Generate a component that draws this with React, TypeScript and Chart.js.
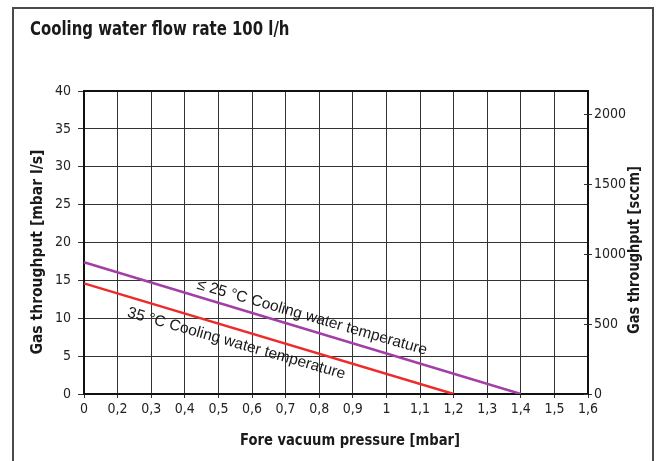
import React, { useEffect, useRef } from 'react';
import { Chart, registerables } from 'chart.js';

Chart.register(...registerables);

// ---- data ----
const pressureLabels = ['0', '0,2', '0,3', '0,4', '0,5', '0,6', '0,7', '0,8', '0,9', '1', '1,1', '1,2', '1,3', '1,4', '1,5', '1,6'];
const throughputMin = 0;
const throughputMax = 40;
const throughputStep = 5;
const sccmTicks = [0, 500, 1000, 1500, 2000];
const sccmMax = 2165;

const series25Pressure = ['0', '1,4'];
const series25Throughput = [17.4, 0];
const series35Pressure = ['0', '1,2'];
const series35Throughput = [14.6, 0];

const seriesNames = ['\u2264 25 \u00b0C Cooling water temperature', '35 \u00b0C Cooling water temperature'];
const chartTitle = 'Cooling water flow rate 100 l/h';
const xTitle = 'Fore vacuum pressure [mbar]';
const yTitle = 'Gas throughput [mbar l/s]';
const y2Title = 'Gas throughput [sccm]';

// ---- styles ----
const condensed = "'Liberation Sans Narrow', 'DejaVu Sans Condensed', 'Roboto Condensed', sans-serif";
const regular = "'Liberation Sans', Arial, Helvetica, sans-serif";
const textColor = '#222';
const gridColor = '#333';
const purple = '#a23fa6';
const red = '#ee2b2b';

// label placement along each line: x index along category axis, vertical offset in px
const labelPlacement = [
  { idx: 6.75, dy: -9 },
  { idx: 4.5, dy: 19 },
];

// draw text horizontally compressed to emulate a condensed face
function drawCondensed(ctx: CanvasRenderingContext2D, text: string, x: number, y: number, squeeze: number, align: 'left' | 'center') {
  ctx.save();
  ctx.translate(x, y);
  ctx.scale(squeeze, 1);
  ctx.textAlign = align;
  ctx.fillText(text, 0, 0);
  ctx.restore();
}

const overlayPlugin = {
  id: 'overlay',
  beforeDatasetsDraw(chart: any) {
    const { ctx, chartArea } = chart;
    ctx.save();
    ctx.strokeStyle = '#111';
    ctx.lineWidth = 2;
    ctx.beginPath();
    ctx.moveTo(chartArea.left - 1, chartArea.top);
    ctx.lineTo(chartArea.right + 1, chartArea.top);
    ctx.stroke();
    // inner tick marks of the right axis
    const y2 = chart.scales.y2;
    ctx.lineWidth = 1;
    ctx.strokeStyle = gridColor;
    y2.ticks.forEach((t: any) => {
      const y = Math.round(y2.getPixelForValue(t.value)) + 0.5;
      ctx.beginPath();
      ctx.moveTo(chartArea.right - 4, y);
      ctx.lineTo(chartArea.right, y);
      ctx.stroke();
    });
    ctx.restore();
  },
  afterDraw(chart: any) {
    const { ctx } = chart;
    const xs = chart.scales.x;
    ctx.save();
    ctx.fillStyle = '#1a1a1a';
    ctx.textBaseline = 'alphabetic';
    // title
    ctx.font = `bold 19px ${condensed}`;
    drawCondensed(ctx, chartTitle, 30, 35, 92 / ctx.measureText('Cooling wa').width, 'left');
    // axis titles
    ctx.font = `bold 15px ${condensed}`;
    drawCondensed(ctx, xTitle, 350, 445, 220 / ctx.measureText(xTitle).width, 'center');
    ctx.textBaseline = 'middle';
    ctx.save();
    ctx.translate(38, 252);
    ctx.rotate(-Math.PI / 2);
    drawCondensed(ctx, yTitle, 0, 0, 205 / ctx.measureText(yTitle).width, 'center');
    ctx.restore();
    ctx.save();
    ctx.translate(635, 250);
    ctx.rotate(-Math.PI / 2);
    drawCondensed(ctx, y2Title, 0, 0, 168 / ctx.measureText(y2Title).width, 'center');
    ctx.restore();
    // line annotations
    ctx.font = `15.5px ${regular}`;
    ctx.fillStyle = '#1a1a1a';
    ctx.textAlign = 'center';
    ctx.textBaseline = 'alphabetic';
    chart.data.datasets.forEach((ds: any, i: number) => {
      const meta = chart.getDatasetMeta(i);
      const p0 = meta.data[0];
      const p1 = meta.data[meta.data.length - 1];
      const slope = (p1.y - p0.y) / (p1.x - p0.x);
      const angle = Math.atan(slope) * 0.96;
      const px = xs.getPixelForValue(labelPlacement[i].idx);
      const py = p0.y + (px - p0.x) * slope + labelPlacement[i].dy;
      ctx.save();
      ctx.translate(px, py);
      ctx.rotate(angle);
      ctx.fillText(seriesNames[i], 0, 0);
      ctx.restore();
    });
    ctx.restore();
  },
};

export default function App() {
  const ref = useRef<HTMLCanvasElement | null>(null);

  useEffect(() => {
    if (!ref.current) return;
    const tickFont = { family: condensed, size: 14 };
    const chart = new Chart(ref.current, {
      type: 'line',
      data: {
        labels: pressureLabels,
        datasets: [
          {
            label: seriesNames[0],
            data: series25Pressure.map((p, i) => ({ x: p, y: series25Throughput[i] })),
            borderColor: purple,
            borderWidth: 2.5,
            pointRadius: 0,
            yAxisID: 'y',
          },
          {
            label: seriesNames[1],
            data: series35Pressure.map((p, i) => ({ x: p, y: series35Throughput[i] })),
            borderColor: red,
            borderWidth: 2.5,
            pointRadius: 0,
            yAxisID: 'y',
          },
        ],
      } as any,
      options: {
        animation: false,
        responsive: false,
        devicePixelRatio: 1,
        layout: { padding: { top: 91, left: 0, right: 0, bottom: 0 } },
        plugins: {
          legend: { display: false },
          tooltip: { enabled: false },
          title: { display: false },
        },
        scales: {
          x: {
            type: 'category',
            position: 'bottom',
            offset: false,
            grid: { color: gridColor, lineWidth: 1, tickLength: 4 },
            border: { display: true, color: '#111', width: 2 },
            ticks: { color: textColor, font: tickFont, padding: 3, maxRotation: 0, autoSkip: false },
            afterFit: (s: any) => { s.height = 67; },
          },
          y: {
            position: 'left',
            min: throughputMin,
            max: throughputMax,
            grid: { color: gridColor, lineWidth: 1, tickLength: 6 },
            border: { display: true, color: '#111', width: 2 },
            ticks: { stepSize: throughputStep, color: textColor, font: tickFont, padding: 7 },
            afterFit: (s: any) => { s.width = 84; },
          },
          y2: {
            position: 'right',
            min: 0,
            max: sccmMax,
            grid: { drawOnChartArea: false, color: gridColor, lineWidth: 1, tickLength: 4 },
            border: { display: true, color: '#111', width: 2 },
            afterBuildTicks: (s: any) => { s.ticks = sccmTicks.map((v) => ({ value: v })); },
            ticks: { color: textColor, font: tickFont, padding: 2, callback: (v: any) => String(v) },
            afterFit: (s: any) => { s.width = 73; },
          },
        },
      } as any,
      plugins: [overlayPlugin],
    });
    return () => chart.destroy();
  }, []);

  return (
    <div style={{ position: 'fixed', left: 0, top: 0, width: 661, height: 461, background: '#fff', overflow: 'hidden' }}>
      <div
        style={{
          position: 'absolute',
          left: 12,
          top: 7,
          width: 642,
          height: 520,
          border: '2px solid #4a4a4a',
          boxSizing: 'border-box',
        }}
      />
      <canvas ref={ref} width={661} height={461} style={{ position: 'absolute', left: 0, top: 0 }} />
    </div>
  );
}
